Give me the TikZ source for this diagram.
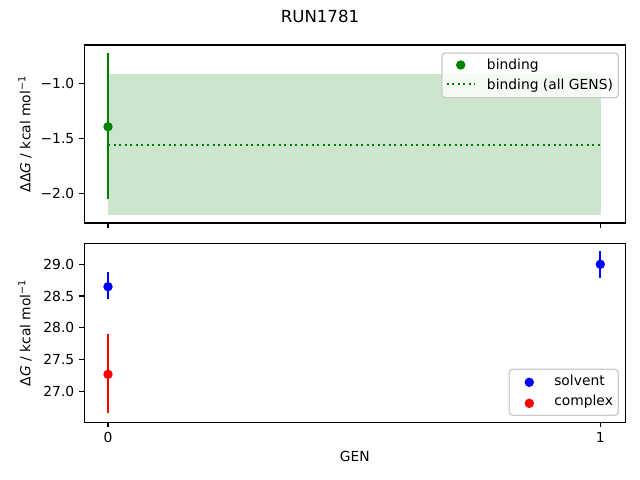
\documentclass[tikz,border=0pt]{standalone}
\usepackage{fontspec}
\setmainfont{DejaVu Sans}
\definecolor{mplgreen}{RGB}{0,128,0}
\definecolor{mplblue}{RGB}{0,0,255}
\definecolor{mplred}{RGB}{255,0,0}
\definecolor{legedge}{RGB}{204,204,204}
\begin{document}
\begin{tikzpicture}[x=0.01in,y=-0.01in,
  font=\fontsize{10}{12}\selectfont,
  spine/.style={line width=0.8pt,draw=black},
  tickmark/.style={line width=0.8pt,draw=black},
  ticklab/.style={inner sep=0pt,text=black},
  errbar/.style={line width=1.5pt},
  dotr/.style={radius=3.4pt},
  legbox/.style={draw=legedge,line width=1pt,fill=white,fill opacity=0.8,rounded corners=2.5pt},
  legtext/.style={anchor=base west,inner sep=0pt}]
\useasboundingbox (0,0) rectangle (640,480);
\fill[white] (0,0) rectangle (640,480);

% title
\node[inner sep=0pt,font=\fontsize{12}{14}\selectfont] (title) at (320,16) {RUN1781};

%%%%%%%%%%%% top panel
\fill[mplgreen,fill opacity=0.2] (107.6,73.6) rectangle (600.7,215.4);
\draw[mplgreen,line width=1.5pt,dash pattern=on 1.5pt off 2.475pt] (108,145) -- (600.3,145);
\draw[mplgreen,errbar] (108,53.3) -- (108,199);
\fill[mplgreen] (108,126.7) circle[dotr];
\draw[spine] (84.3,45) rectangle (625.3,223);
% y ticks
\foreach \yy/\lab [count=\i] in {83.3/{−1.0},138.3/{−1.5},193.3/{−2.0}}{
  \draw[tickmark] (84.3,\yy) -- ++(-4.86,0);
  \node[ticklab,anchor=east] (ta\i) at (74.5,\yy) {\lab};
}
\foreach \xx in {108,600.3}{ \draw[tickmark] (\xx,223) -- ++(0,4.86); }
\node[rotate=90,inner sep=0pt] (ylabA) at (25,134) {ΔΔ\textit{G} / kcal mol\textsuperscript{−1}};
% legend top
\draw[legbox] (442,53) rectangle (618.3,97.7);
\fill[mplgreen] (460.7,65) circle[dotr];
\draw[mplgreen,line width=1.5pt,dash pattern=on 1.5pt off 2.475pt] (446.7,84.3) -- (474.7,84.3);
\node[legtext] (lgA1) at (486.7,69.5) {binding};
\node[legtext] (lgA2) at (486.7,89.3) {binding (all GENS)};

%%%%%%%%%%%% bottom panel
\draw[mplblue,errbar] (108,272.3) -- (108,299.3);
\fill[mplblue] (108,286.7) circle[dotr];
\draw[mplblue,errbar] (600.3,251) -- (600.3,277.7);
\fill[mplblue] (600.3,264.3) circle[dotr];
\draw[mplred,errbar] (108,334.3) -- (108,413.3);
\fill[mplred] (108,374.3) circle[dotr];
\draw[spine] (84.3,243.3) rectangle (625.3,422.2);
\foreach \yy/\lab [count=\i] in {264.3/{29.0},296/{28.5},327.7/{28.0},359.4/{27.5},391.1/{27.0}}{
  \draw[tickmark] (84.3,\yy) -- ++(-4.86,0);
  \node[ticklab,anchor=east] (tb\i) at (74.5,\yy) {\lab};
}
\foreach \xx/\lab [count=\i] in {108/0,600.3/1}{
  \draw[tickmark] (\xx,422.2) -- ++(0,4.86);
  \node[ticklab,anchor=north] (tx\i) at (\xx,431.7) {\lab};
}
\node[inner sep=0pt] (xlab) at (354.8,456.5) {GEN};
\node[rotate=90,inner sep=0pt] (ylabB) at (25,332.7) {Δ\textit{G} / kcal mol\textsuperscript{−1}};
% legend bottom
\draw[legbox] (509.3,369.3) rectangle (618.3,415.3);
\fill[mplblue] (529.3,382.3) circle[dotr];
\fill[mplred] (529.3,403.3) circle[dotr];
\node[legtext] (lgB1) at (554,385.5) {solvent};
\node[legtext] (lgB2) at (554,405.5) {complex};
\end{tikzpicture}
\end{document}
